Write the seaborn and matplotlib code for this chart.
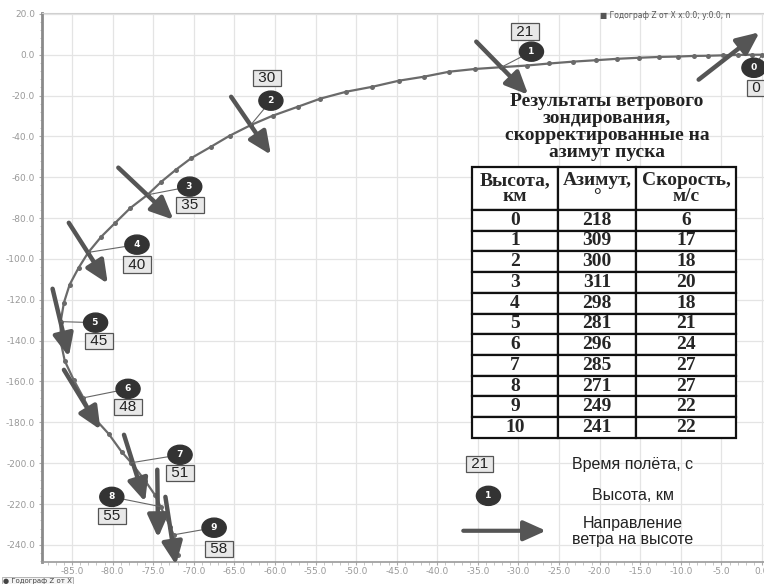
import matplotlib
matplotlib.use("Agg")
import matplotlib.pyplot as plt
import seaborn as sns
import pandas as pd
from matplotlib.patches import FancyArrowPatch
from matplotlib.ticker import MultipleLocator, FormatStrFormatter

# hodograph Z(X), points
hodo_x = [0.0, -1.2, -2.9, -4.8, -6.6, -8.4, -10.4, -12.7, -15.2, -17.8, -20.5, -23.3,
          -26.2, -29.0, -32.1, -35.4, -38.5, -41.7, -44.7, -48.0, -51.2, -54.4, -57.2,
          -60.3, -63.0, -65.6, -67.9, -70.3, -72.2, -74.0, -75.7, -77.8, -79.7, -81.4,
          -83.0, -84.2, -85.3, -86.0, -86.4, -86.4, -85.9, -84.8, -83.6, -82.4, -80.5,
          -78.9, -77.7, -76.0, -74.8, -74.1, -73.5, -72.9, -72.5, -72.2, -72.0]
hodo_y = [0.0, 0.0, -0.1, -0.3, -0.5, -0.6, -0.9, -1.1, -1.5, -2.0, -2.7, -3.4,
          -4.3, -5.3, -6.1, -7.0, -8.3, -10.8, -12.7, -15.7, -18.1, -21.5, -25.5,
          -29.9, -34.5, -39.7, -45.1, -50.6, -56.3, -62.2, -68.6, -75.0, -82.4, -89.1,
          -96.8, -104.4, -112.6, -121.4, -130.7, -140.5, -149.9, -159.2, -168.0, -177.3, -185.6,
          -194.4, -199.8, -208.6, -215.5, -221.3, -226.2, -231.1, -235.1, -240.0, -244.9]

# wind sounding table
heights = [0, 1, 2, 3, 4, 5, 6, 7, 8, 9, 10]
azimuth = [218, 309, 300, 311, 298, 281, 296, 285, 271, 249, 241]
speed = [6, 17, 18, 20, 18, 21, 24, 27, 27, 22, 22]

# height marks on the curve (0..9 km) and flight time
mark_x = [0.0, -32.1, -63.0, -75.7, -83.0, -86.4, -83.6, -77.7, -74.1, -72.5]
mark_y = [0.0, -6.1, -34.5, -68.6, -96.8, -130.7, -168.0, -199.8, -221.3, -235.1]
flight_time = [0, 21, 30, 35, 40, 45, 48, 51, 55, 58]
bubble_x = [-1.0, -28.4, -60.5, -70.5, -77.0, -82.1, -78.1, -71.7, -80.1, -67.5]
bubble_y = [-6.4, 1.5, -22.5, -64.6, -93.0, -131.2, -163.6, -195.9, -216.5, -231.6]
tbox_x = [-0.7, -29.2, -61.0, -70.5, -77.0, -81.7, -78.1, -71.7, -80.1, -66.9]
tbox_y = [-16.2, 11.3, -11.3, -73.5, -102.8, -140.1, -172.4, -204.7, -225.8, -241.9]

# wind arrows (tail -> head)
arr_x0 = [-7.8, -35.2, -65.4, -79.3, -85.4, -87.4, -86.0, -78.6, -74.5, -73.5]
arr_y0 = [-12.2, 6.4, -20.6, -55.3, -82.3, -114.6, -154.3, -186.1, -203.2, -216.5]
arr_x1 = [-0.3, -28.8, -60.5, -72.5, -80.6, -85.4, -81.5, -76.0, -74.4, -72.2]
arr_y1 = [11.0, -19.6, -49.0, -80.8, -112.1, -147.9, -183.6, -218.9, -236.5, -249.8]

sns.set_style("whitegrid")
plt.rcParams['font.family'] = ['DejaVu Sans']

fig, ax = plt.subplots(figsize=(7.64, 5.84), dpi=100)
fig.subplots_adjust(left=0.055, right=1.0, bottom=0.038, top=0.978)

df = pd.DataFrame({'x': hodo_x, 'y': hodo_y})
sns.lineplot(data=df, x='x', y='y', sort=False, estimator=None, color='#6a6a6a', lw=1.6,
             marker='o', markersize=3.6, markeredgewidth=0, ax=ax, zorder=3)

ax.set_xlim(-88.7, 0.25)
ax.set_ylim(-248.3, 20.5)
ax.xaxis.set_major_locator(MultipleLocator(5))
ax.yaxis.set_major_locator(MultipleLocator(20))
ax.xaxis.set_minor_locator(MultipleLocator(1))
ax.yaxis.set_minor_locator(MultipleLocator(4))
ax.xaxis.set_major_formatter(FormatStrFormatter('%.1f'))
ax.yaxis.set_major_formatter(FormatStrFormatter('%.1f'))
ax.tick_params(axis='both', which='major', labelsize=6.5, labelcolor='#999999',
               length=2.5, color='#aaaaaa', pad=2.5)
ax.tick_params(axis='x', which='major', pad=1.2)
ax.tick_params(axis='both', which='minor', length=1.8, color='#bbbbbb')
ax.tick_params(axis='x', which='both', bottom=True)
ax.tick_params(axis='y', which='both', left=True)
ax.grid(True, which='major', color='#e4e4e4', lw=0.9)
ax.set_xlabel('')
ax.set_ylabel('')
ax.spines['left'].set_color('#8a8a8a')
ax.spines['left'].set_linewidth(2.0)
ax.spines['bottom'].set_color('#999999')
ax.spines['bottom'].set_linewidth(1.2)
ax.spines['top'].set_color('#d0d0d0')
ax.spines['right'].set_visible(False)

arrow_style = '-|>,head_length=0.8,head_width=0.36'

# wind arrows
for x0, y0, x1, y1 in zip(arr_x0, arr_y0, arr_x1, arr_y1):
    ax.add_patch(FancyArrowPatch((x0, y0), (x1, y1), arrowstyle=arrow_style,
                                 mutation_scale=17, lw=3.2, color='#555555',
                                 shrinkA=0, shrinkB=0, zorder=4))

bubble_box = dict(boxstyle='ellipse,pad=0.25', facecolor='#333333', edgecolor='#333333')
time_box = dict(boxstyle='square,pad=0.08', facecolor='#e8e8e8', edgecolor='#555555', lw=0.9)

# leaders, height bubbles and time boxes
for i in range(len(mark_x)):
    ax.plot([bubble_x[i], mark_x[i]], [bubble_y[i], mark_y[i]], color='#666666', lw=0.8, zorder=4)
    ax.text(bubble_x[i], bubble_y[i], f" {heights[i]} ", color='white', fontsize=6.5,
            fontweight='bold', ha='center', va='center', zorder=6, bbox=bubble_box)
    ax.text(tbox_x[i], tbox_y[i], f" {flight_time[i]} ", color='#222222', fontsize=11,
            family='Liberation Sans', ha='center', va='center', zorder=6, bbox=time_box)

# table title
ax.text(-19.1, -35.4, "Результаты ветрового\nзондирования,\nскорректированные на\nазимут пуска",
        family='Liberation Serif', fontweight='bold', fontsize=14, ha='center', va='center',
        linespacing=0.98, color='#222222', zorder=7)

# table
cell_text = [["Высота,\nкм", "Азимут,\n°", "Скорость,\nм/с"]]
for h, a, s in zip(heights, azimuth, speed):
    cell_text.append([str(h), str(a), str(s)])
tbl = ax.table(cellText=cell_text, cellLoc='center', colWidths=[0.326, 0.295, 0.379],
               bbox=[0.5956, 0.2259, 0.3657, 0.4936])
tbl.auto_set_font_size(False)
tbl.set_zorder(6)
for (r, c), cell in tbl.get_celld().items():
    cell.set_linewidth(1.6)
    cell.set_edgecolor('#111111')
    cell.set_facecolor('white')
    cell.set_height(2.08 if r == 0 else 1.0)
    t = cell.get_text()
    t.set_fontfamily('Liberation Serif')
    t.set_fontweight('bold')
    t.set_fontsize(14)
    t.set_linespacing(0.9)

# key below the table
ax.text(-34.8, -200.3, " 21 ", color='#222222', fontsize=11, family='Liberation Sans',
        ha='center', va='center', zorder=6, bbox=time_box)
ax.text(-33.7, -216.0, " 1 ", color='white', fontsize=6.5, fontweight='bold', ha='center',
        va='center', zorder=6, bbox=bubble_box)
ax.add_patch(FancyArrowPatch((-36.8, -233.1), (-26.6, -233.1), arrowstyle=arrow_style,
                             mutation_scale=17, lw=3.0, color='#555555', shrinkA=0, shrinkB=0, zorder=4))
ax.text(-15.9, -200.8, "Время полёта, с", fontsize=11.5, family='Liberation Sans',
        ha='center', va='center', color='#222222', zorder=6)
ax.text(-15.9, -216.0, "Высота, км", fontsize=11.5, family='Liberation Sans',
        ha='center', va='center', color='#222222', zorder=6)
ax.text(-15.9, -233.6, "Направление\nветра на высоте", fontsize=11.5, family='Liberation Sans',
        ha='center', va='center', color='#222222', linespacing=1.05, zorder=6)

# series captions of the original widget
fig.text(0.785, 0.969, "■ Годограф Z от X x:0.0; y:0.0; n", fontsize=5.5, color='#555555')
fig.text(0.004, 0.002, "● Годограф Z от X", fontsize=5, color='#444444',
         bbox=dict(boxstyle='square,pad=0.15', facecolor='#f4f4f4', edgecolor='#aaaaaa', lw=0.6))

fig.savefig('out.png', dpi=100)
